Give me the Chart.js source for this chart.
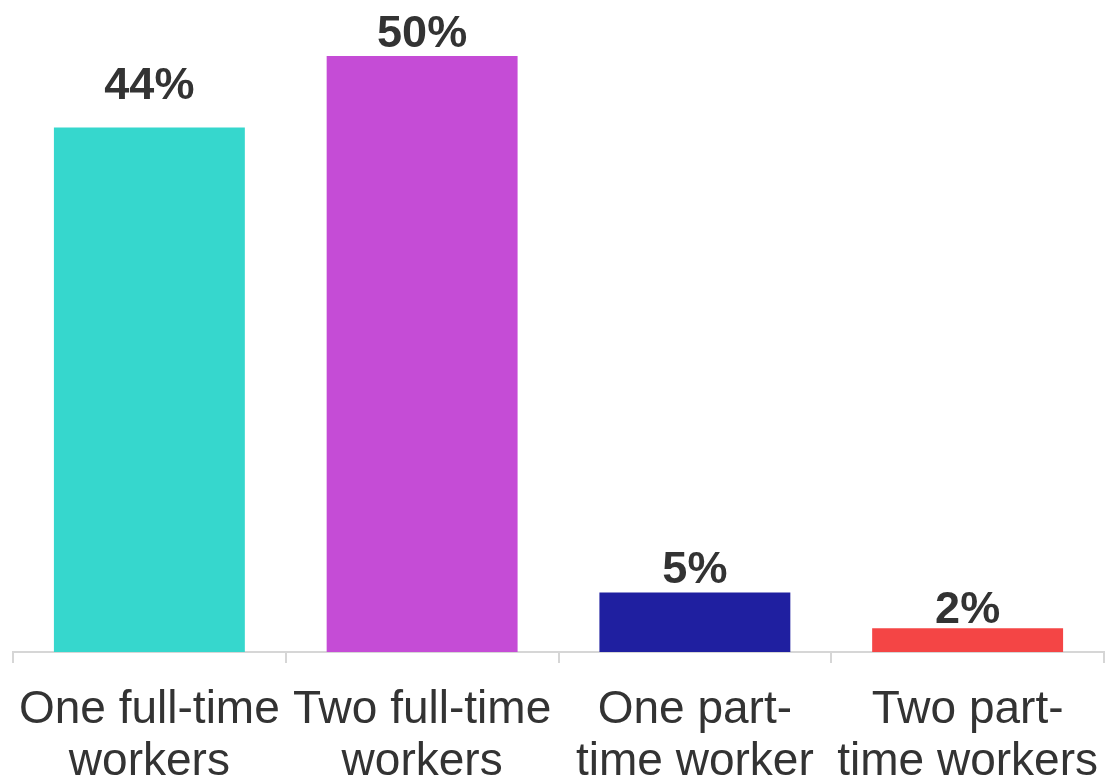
<!DOCTYPE html>
<html>
<head>
<meta charset="utf-8">
<script src="https://cdn.jsdelivr.net/npm/chart.js@4.4.0/dist/chart.umd.min.js"></script>
<style>
  html, body { margin: 0; padding: 0; background: #fff; }
  #wrap { width: 1107px; height: 780px; }
</style>
</head>
<body>
<div id="wrap"><canvas id="chart" width="1107" height="780"></canvas></div>
<script>
// household work patterns, share in percent
const categories = [
  ["One full-time", "workers"],
  ["Two full-time", "workers"],
  ["One part-", "time worker"],
  ["Two part-", "time workers"]
];
const shares = [44, 50, 5, 2];
const barColors = ["#36d7cd", "#c54cd6", "#1f1fa0", "#f44545"];

// gap between bar top and its value label
const labelGaps = [29, 9, 9, 5];

// writes "44%" etc above every bar
const valueLabels = {
  id: "valueLabels",
  afterDatasetsDraw(chart) {
    const ctx = chart.ctx;
    const meta = chart.getDatasetMeta(0);
    ctx.save();
    ctx.font = "bold 45px 'Liberation Sans', Arial, sans-serif";
    ctx.fillStyle = "#333333";
    ctx.textAlign = "center";
    ctx.textBaseline = "alphabetic";
    meta.data.forEach((bar, i) => {
      ctx.fillText(shares[i] + "%", bar.x, bar.y - labelGaps[i]);
    });
    ctx.restore();
  }
};

new Chart(document.getElementById("chart"), {
  type: "bar",
  data: {
    labels: categories,
    datasets: [{
      data: shares,
      backgroundColor: barColors,
      borderWidth: 0,
      barPercentage: 0.7,
      categoryPercentage: 1
    }]
  },
  options: {
    responsive: false,
    animation: false,
    layout: { padding: { top: 56, left: 13, right: 3, bottom: 0 } },
    plugins: {
      legend: { display: false },
      tooltip: { enabled: false }
    },
    scales: {
      x: {
        afterFit(scale) {
          // fixed axis band, and don't let wide labels squeeze the plot
          scale.height = 128;
          scale.paddingLeft = 0;
          scale.paddingRight = 0;
        },
        grid: {
          display: true,
          drawOnChartArea: false,
          drawTicks: true,
          tickLength: 11,
          color: "#d6d6d6",
          lineWidth: 2
        },
        border: { display: true, color: "#d6d6d6", width: 2 },
        ticks: {
          color: "#333333",
          padding: 21,
          maxRotation: 0,
          autoSkip: false,
          font: { family: "'Liberation Sans', Arial, sans-serif", size: 46, lineHeight: 1.13 }
        }
      },
      y: {
        display: false,
        min: 0,
        max: 50
      }
    }
  },
  plugins: [valueLabels]
});
</script>
</body>
</html>
